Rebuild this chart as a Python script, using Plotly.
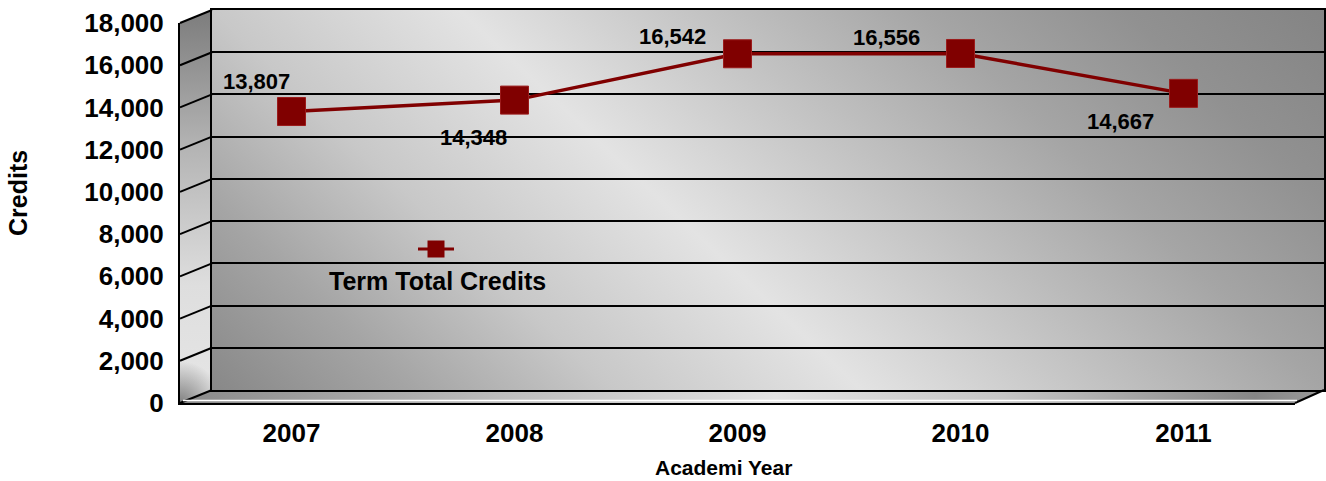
import base64
import plotly.graph_objects as go

# ---- data -------------------------------------------------------------
years = ["2007", "2008", "2009", "2010", "2011"]
credits = [13807, 14348, 16542, 16556, 14667]
series_name = "Term Total Credits"
y_ticks = list(range(0, 18001, 2000))
y_max = 18000

# data-label offsets from each marker, in pixels (right / up)
label_dx = [-35, -41, -65, -74, -63]
label_dy = [30, -37, 17, 16, -28]

# ---- geometry of the 3-D box (pixels) ---------------------------------
W, H = 1326, 481
FX0, FX1, FY_TOP, FY_BOT = 180, 1295, 23, 403      # front plane (series)
BX0, BX1, BY_TOP, BY_BOT = 212, 1324, 10, 390      # back wall

RED = "#800000"
FONT = "Liberation Sans, Arial, sans-serif"


def px(x):
    return x / W


def py(y):
    return 1 - y / H


def back_y(v):
    return BY_BOT - (BY_BOT - BY_TOP) * v / y_max


# ---- shaded walls and floor as an SVG backdrop ------------------------
svg = f"""<svg xmlns="http://www.w3.org/2000/svg" width="{W}" height="{H}" viewBox="0 0 {W} {H}" preserveAspectRatio="none">
<defs>
 <linearGradient id="wall" gradientUnits="userSpaceOnUse" x1="163.6" y1="344.2" x2="878.1" y2="-411.8">
  <stop offset="0" stop-color="#888888"/>
  <stop offset="0.133" stop-color="#a5a5a5"/>
  <stop offset="0.265" stop-color="#c8c8c8"/>
  <stop offset="0.429" stop-color="#e3e3e3"/>
  <stop offset="0.735" stop-color="#a5a5a5"/>
  <stop offset="0.867" stop-color="#919191"/>
  <stop offset="1" stop-color="#848484"/>
 </linearGradient>
 <linearGradient id="side" gradientUnits="userSpaceOnUse" x1="0" y1="{BY_TOP}" x2="0" y2="{FY_BOT}">
  <stop offset="0" stop-color="#7c7c7c"/>
  <stop offset="0.35" stop-color="#b4b4b4"/>
  <stop offset="0.7" stop-color="#dedede"/>
  <stop offset="1" stop-color="#e6e6e6"/>
 </linearGradient>
 <radialGradient id="corner" gradientUnits="userSpaceOnUse" cx="{FX0}" cy="{FY_BOT}" r="42">
  <stop offset="0" stop-color="#808080" stop-opacity="1"/>
  <stop offset="1" stop-color="#808080" stop-opacity="0"/>
 </radialGradient>
 <linearGradient id="floor" gradientUnits="userSpaceOnUse" x1="{FX0}" y1="0" x2="{BX1}" y2="0">
  <stop offset="0" stop-color="#8a8a8a"/>
  <stop offset="0.28" stop-color="#bdbdbd"/>
  <stop offset="0.52" stop-color="#e2e2e2"/>
  <stop offset="0.72" stop-color="#c6c6c6"/>
  <stop offset="0.94" stop-color="#868686"/>
  <stop offset="1" stop-color="#9a9a9a"/>
 </linearGradient>
 <clipPath id="sideclip"><polygon points="{FX0},{FY_TOP} {BX0},{BY_TOP} {BX0},{BY_BOT} {FX0},{FY_BOT}"/></clipPath>
</defs>
<rect x="{BX0}" y="{BY_TOP}" width="{BX1 - BX0}" height="{BY_BOT - BY_TOP}" fill="url(#wall)"/>
<polygon points="{FX0},{FY_TOP} {BX0},{BY_TOP} {BX0},{BY_BOT} {FX0},{FY_BOT}" fill="url(#side)"/>
<circle cx="{FX0}" cy="{FY_BOT}" r="42" fill="url(#corner)" clip-path="url(#sideclip)"/>
<polygon points="{FX0},{FY_BOT} {BX0},{BY_BOT} {BX1},{BY_BOT} {FX1},{FY_BOT}" fill="url(#floor)"/>
</svg>"""
svg_uri = "data:image/svg+xml;base64," + base64.b64encode(svg.encode()).decode()

fig = go.Figure()

# back wall subplot: carries the horizontal gridlines and the wall frame
fig.add_trace(go.Scatter(x=[], y=[], xaxis="x", yaxis="y", showlegend=False, hoverinfo="skip"))

# the series itself, drawn on the front plane
fig.add_trace(go.Scatter(
    x=years, y=credits, xaxis="x2", yaxis="y2", name=series_name,
    mode="lines+markers",
    line=dict(color=RED, width=3.5),
    marker=dict(symbol="square", size=28, color=RED, line=dict(color="#9b1b1b", width=1)),
    showlegend=False,
))

shapes = []
# diagonals on the side wall, one per gridline
for v in y_ticks:
    yb = back_y(v)
    shapes.append(dict(type="line", xref="paper", yref="paper",
                       x0=px(FX0), y0=py(yb + (FY_BOT - BY_BOT)), x1=px(BX0), y1=py(yb),
                       line=dict(color="black", width=2), layer="above"))
# right edge of the floor and the light rim along its front
shapes.append(dict(type="line", xref="paper", yref="paper",
                   x0=px(FX1), y0=py(FY_BOT), x1=px(BX1), y1=py(BY_BOT),
                   line=dict(color="black", width=2), layer="above"))
shapes.append(dict(type="line", xref="paper", yref="paper",
                   x0=px(FX0 + 3), y0=py(FY_BOT - 2.5), x1=px(FX1 + 2), y1=py(FY_BOT - 2.5),
                   line=dict(color="white", width=1.5), layer="above"))

# legend key: short line with a square marker, text underneath
LX, LY = 436, 249
shapes.append(dict(type="line", xref="paper", yref="paper",
                   x0=px(LX - 18), y0=py(LY), x1=px(LX + 18), y1=py(LY),
                   line=dict(color=RED, width=3)))
shapes.append(dict(type="rect", xref="paper", yref="paper",
                   x0=px(LX - 8.5), y0=py(LY + 8.5), x1=px(LX + 8.5), y1=py(LY - 8.5),
                   fillcolor=RED, line=dict(color=RED, width=0)))

annotations = []
for i, (v, dx, dy) in enumerate(zip(credits, label_dx, label_dy)):
    annotations.append(dict(x=i, y=v, xref="x2", yref="y2", text=f"<b>{v:,}</b>",
                            showarrow=False, xshift=dx, yshift=dy,
                            xanchor="center", yanchor="middle",
                            font=dict(family=FONT, size=22, color="black")))
annotations.append(dict(x=px(437), y=py(281), xref="paper", yref="paper",
                        text=f"<b>{series_name}</b>", showarrow=False,
                        xanchor="center", yanchor="middle",
                        font=dict(family=FONT, size=25, color="black")))
annotations.append(dict(x=px(18), y=py(193), xref="paper", yref="paper",
                        text="<b>Credits</b>", textangle=-90, showarrow=False,
                        xanchor="center", yanchor="middle",
                        font=dict(family=FONT, size=25, color="black")))
annotations.append(dict(x=px(724), y=py(467), xref="paper", yref="paper",
                        text="<b>Academi Year</b>", showarrow=False,
                        xanchor="center", yanchor="middle",
                        font=dict(family=FONT, size=21, color="black")))

fig.update_layout(
    template="none",
    width=W, height=H,
    margin=dict(l=0, r=0, t=0, b=0, pad=0),
    paper_bgcolor="white",
    plot_bgcolor="rgba(0,0,0,0)",
    showlegend=False,
    images=[dict(source=svg_uri, xref="paper", yref="paper", x=0, y=1,
                 sizex=1, sizey=1, xanchor="left", yanchor="top",
                 sizing="stretch", layer="below")],
    shapes=shapes,
    annotations=annotations,
    # back wall
    xaxis=dict(domain=[px(BX0), px(BX1)], range=[0, 1], anchor="y",
               showgrid=False, zeroline=False, showticklabels=False, ticks="",
               showline=True, mirror=True, linecolor="black", linewidth=2,
               automargin=False, fixedrange=True),
    yaxis=dict(domain=[py(BY_BOT), py(BY_TOP)], range=[0, y_max], anchor="x",
               tickvals=y_ticks, showgrid=True, gridcolor="black", gridwidth=2,
               zeroline=False, showticklabels=False, ticks="",
               showline=True, mirror=True, linecolor="black", linewidth=2,
               automargin=False, fixedrange=True),
    # front plane: series, category labels and value ticks
    xaxis2=dict(domain=[px(FX0), px(FX1)], type="category", range=[-0.5, len(years) - 0.5],
                anchor="y2", showgrid=False, zeroline=False, ticks="",
                showline=True, linecolor="black", linewidth=2,
                ticklabelstandoff=6,
                tickfont=dict(family=FONT, size=26, color="black", weight="bold"),
                automargin=False, fixedrange=True),
    yaxis2=dict(domain=[py(FY_BOT), py(FY_TOP)], range=[0, y_max], anchor="x2",
                tickvals=y_ticks, tickformat=",d", showgrid=False, zeroline=False, ticks="",
                showline=True, linecolor="black", linewidth=2,
                ticklabelstandoff=9,
                tickfont=dict(family=FONT, size=26, color="black", weight="bold"),
                automargin=False, fixedrange=True),
)

fig.write_html("out.html")
